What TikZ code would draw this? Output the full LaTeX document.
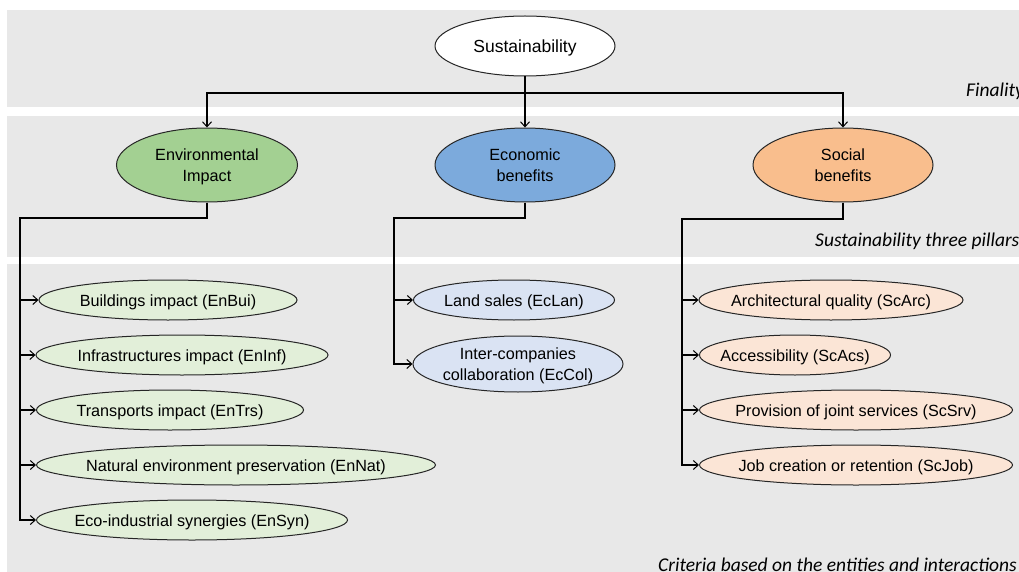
\documentclass[tikz,border=0pt]{standalone}
\usepackage{fontspec}
\setmainfont{Liberation Sans}
\newfontfamily\notefont{Carlito}
\usetikzlibrary{shapes.geometric,arrows.meta}
\definecolor{bandgray}{RGB}{232,232,232}
\definecolor{envcol}{RGB}{163,208,146}
\definecolor{ecocol}{RGB}{124,170,220}
\definecolor{soccol}{RGB}{249,190,141}
\definecolor{envlight}{RGB}{226,239,217}
\definecolor{ecolight}{RGB}{218,227,243}
\definecolor{soclight}{RGB}{251,229,214}
\newcommand\ztxt[1]{\makebox[0pt]{\smash{\raisebox{-6.5pt}{$\vcenter{\hbox{\begin{tabular}{@{}c@{}}#1\end{tabular}}}$}}}}
\tikzset{
  ell/.style={ellipse, draw=black!85, line width=1pt, inner sep=0pt,
    font=\fontsize{16.2}{21}\selectfont},
  leaf/.style={ell, minimum height=40pt},
  arr/.style={line width=1.2pt, -{Straight Barb[length=5pt,width=9pt,line width=1pt]}},
  conn/.style={line width=1.2pt},
  note/.style={font=\notefont\itshape\fontsize{19.5}{20}\selectfont, anchor=west, inner sep=0pt},
}
\begin{document}
\begin{tikzpicture}[x=1pt,y=-1pt]
\useasboundingbox (0,0) rectangle (1019,572);
\clip (0,0) rectangle (1019,572);
% bands
\fill[bandgray] (7,10) rectangle (1019,107);
\fill[bandgray] (7,116) rectangle (1019,257);
\fill[bandgray] (7,264) rectangle (1019,572);
% labels
\node[note] (lfin) at (966,91) {Finality};
\node[note] (lpil) at (815,241) {Sustainability three pillars};
\node[note] (lcri) at (658,565) {Criteria based on the entities and interactions};
% top
\node[ell, fill=white, minimum width=180pt, minimum height=60pt, font=\fontsize{17.5}{21}\selectfont] (sus) at (525,46) {\ztxt{Sustainability}};
\node[ell, fill=envcol, minimum width=181pt, minimum height=74pt] (env) at (207,165) {\ztxt{Environmental\\Impact}};
\node[ell, fill=ecocol, minimum width=180pt, minimum height=74pt] (eco) at (525,165) {\ztxt{Economic\\benefits}};
\node[ell, fill=soccol, minimum width=180pt, minimum height=74pt] (soc) at (843,165) {\ztxt{Social\\benefits}};
\coordinate (bar) at (525,93);
\draw[arr] (sus.south) -- (eco.north);
\draw[arr] (bar) -| (env.north);
\draw[arr] (bar) -| (soc.north);
% environmental leaves
\node[leaf, fill=envlight, minimum width=258pt] (bui) at (168,300) {\ztxt{Buildings impact (EnBui)}};
\node[leaf, fill=envlight, minimum width=292pt] (inf) at (182,355) {\ztxt{Infrastructures impact (EnInf)}};
\node[leaf, fill=envlight, minimum width=267pt] (trs) at (170,410) {\ztxt{Transports impact (EnTrs)}};
\node[leaf, fill=envlight, minimum width=399pt] (nat) at (236,465) {\ztxt{Natural environment preservation (EnNat)}};
\node[leaf, fill=envlight, minimum width=311pt] (syn) at (192,520) {\ztxt{Eco-industrial synergies (EnSyn)}};
\coordinate (envJ) at (20,218);
\draw[conn] (env.south) |- (envJ) -- (20,520);
\foreach \n in {bui,inf,trs,nat,syn} \draw[arr] (envJ) |- (\n.west);
% economic leaves
\node[leaf, fill=ecolight, minimum width=201pt] (lan) at (514,300) {\ztxt{Land sales (EcLan)}};
\node[leaf, fill=ecolight, minimum width=210pt, minimum height=56pt] (col) at (518,364) {\ztxt{Inter-companies\\collaboration (EcCol)}};
\coordinate (ecoJ) at (394,218);
\draw[conn] (eco.south) |- (ecoJ) -- (394,364);
\foreach \n in {lan,col} \draw[arr] (ecoJ) |- (\n.west);
% social leaves
\node[leaf, fill=soclight, minimum width=264pt] (arc) at (831,300) {\ztxt{Architectural quality (ScArc)}};
\node[leaf, fill=soclight, minimum width=191pt] (acs) at (795,355) {\ztxt{Accessibility (ScAcs)}};
\node[leaf, fill=soclight, minimum width=313pt] (srv) at (856,410) {\ztxt{Provision of joint services (ScSrv)}};
\node[leaf, fill=soclight, minimum width=313pt] (job) at (856,465) {\ztxt{Job creation or retention (ScJob)}};
\coordinate (socJ) at (682,219);
\draw[conn] (soc.south) |- (socJ) -- (682,465);
\foreach \n in {arc,acs,srv,job} \draw[arr] (socJ) |- (\n.west);
\end{tikzpicture}
\end{document}
